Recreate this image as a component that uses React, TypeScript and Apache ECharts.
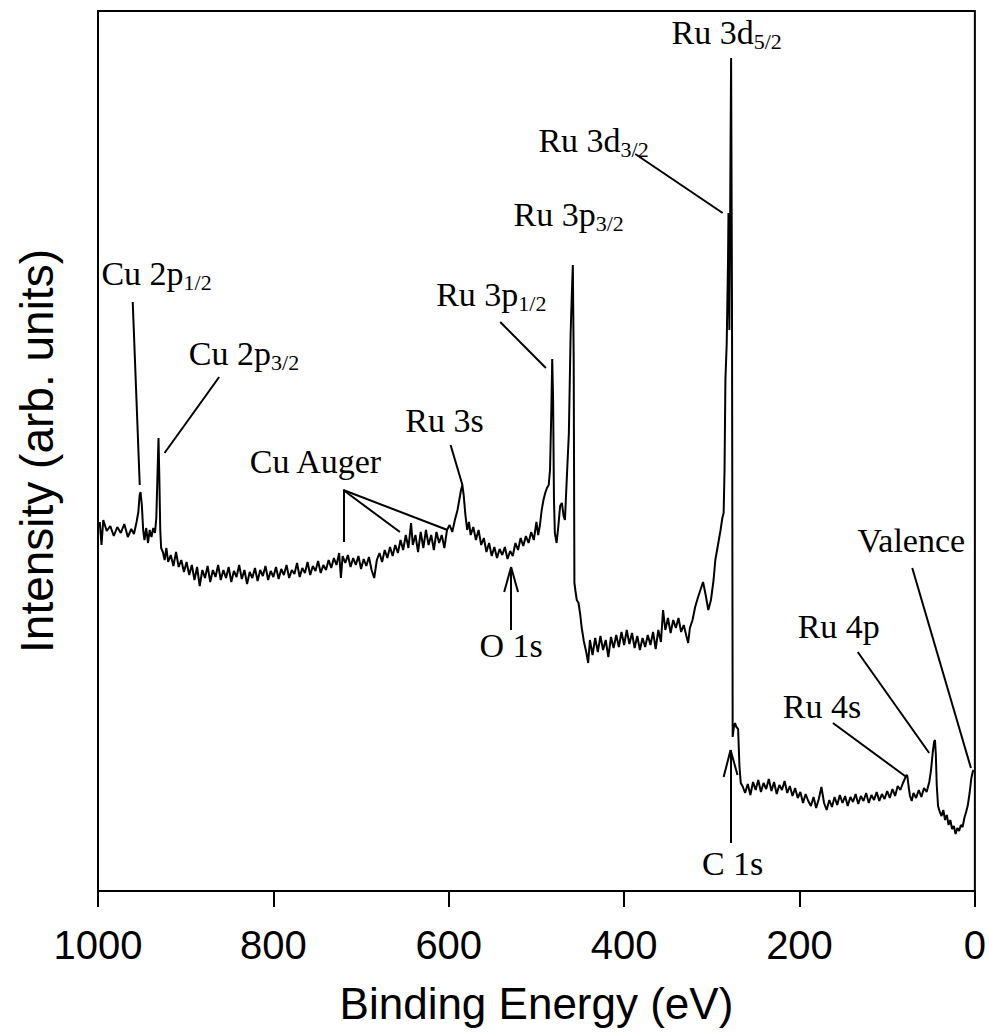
import { useEffect, useRef } from 'react';
import * as echarts from 'echarts';

// Binding energy (eV) and intensity (arb. units)
const energy = [
  998, 996, 994, 990, 986, 982, 978, 974, 970, 966, 962, 959, 956, 954, 952.5, 951.5, 950, 948.5, 947, 945,
  943, 941, 939, 937, 935, 933.5, 932, 931, 930, 929, 928, 926, 924, 922, 920, 917, 914, 911, 908, 905,
  902, 899, 896, 893, 890, 887, 884, 881, 878, 875, 872, 869, 866, 863, 860, 857, 854, 851, 848, 845,
  842, 839, 836, 833, 830, 827, 824, 821, 818, 815, 812, 809, 806, 803, 800, 797, 794, 791, 788, 785,
  782, 779, 776, 773, 770, 767, 764, 761, 758, 755, 752, 749, 746, 743, 740, 737, 734, 731, 728, 725,
  723, 721, 718, 715, 712, 709, 706, 703, 700, 697, 694, 691, 688, 685, 682, 679, 676, 673, 670, 667,
  664, 661, 658, 655, 652, 649, 646, 643, 641, 638, 635, 632, 629, 626, 623, 620, 617, 614, 611, 608,
  605, 602, 599, 596, 593, 590, 588, 586, 584.5, 583, 581, 579, 577, 575, 572, 569, 566, 563, 560, 557,
  554, 551, 548, 545, 542, 539, 536, 533, 530, 527, 524, 521, 518, 515, 512, 509, 506, 503, 500, 498,
  496, 494, 492, 490, 488, 486, 484.5, 483, 482, 481, 480, 479, 477, 475, 473, 471, 469, 467.5, 465, 463,
  461, 459.5, 458.5, 457.5, 456.7, 455.5, 454, 452, 450, 448.5, 446, 443, 441, 439, 436, 433, 430, 427, 424, 421,
  418, 415, 412, 409, 406, 403, 400, 397, 394, 391, 388, 385, 382, 379, 376, 373, 370, 367, 364, 361,
  358, 355.6, 353, 350, 347, 344, 341, 338, 335, 332, 329, 327, 325, 322, 319, 316, 313, 310, 307, 304,
  301, 298, 296, 293, 290, 288, 286.5, 285.5, 284.5, 283, 281.5, 281, 280, 279, 278, 277, 276.2, 275, 273.5, 272,
  270, 268.5, 267, 265, 262, 259, 256, 253, 250, 247, 244, 241, 238, 235, 232, 229, 226, 223, 220, 217,
  214, 211, 208, 205, 202, 199, 196, 193, 190, 187, 184, 181, 178, 175, 172, 169, 166, 163, 160, 157,
  154, 151, 148, 145, 142, 139, 136, 133, 130, 127, 124, 121, 118, 115, 112, 109, 106, 103, 100, 97,
  94, 91, 88, 85, 82, 80, 78, 77, 75.5, 74, 72, 70, 67, 64, 61, 58, 55, 52, 50, 48,
  46.5, 45.5, 44.5, 43.5, 42, 40, 38, 36, 34, 32, 30, 28, 26, 24, 22, 20, 18, 16, 14, 12,
  10, 8, 6, 4, 2.5, 1.5,
];

const intensity = [
  369, 346, 371, 360, 365, 355, 364, 358, 367, 354, 362, 357, 369, 379, 396, 399, 386, 361, 351, 363,
  348, 361, 354, 363, 358, 373, 421, 453, 411, 361, 343, 339, 331, 343, 329, 336, 325, 339, 324, 331,
  319, 329, 316, 326, 311, 324, 305, 321, 313, 325, 309, 321, 314, 326, 311, 321, 313, 324, 309, 320,
  314, 326, 312, 321, 307, 319, 313, 323, 310, 321, 315, 325, 311, 320, 314, 324, 312, 322, 316, 326,
  313, 321, 317, 328, 314, 323, 318, 329, 316, 325, 320, 330, 318, 326, 321, 331, 323, 333, 326, 338,
  313, 335, 328, 336, 324, 333, 326, 335, 322, 332, 325, 334, 321, 313, 331, 338, 329, 341, 333, 344,
  335, 346, 338, 351, 341, 356, 343, 368, 346, 356, 339, 359, 343, 361, 346, 356, 341, 359, 348, 356,
  343, 361, 366, 359, 371, 381, 391, 401, 406, 396, 376, 361, 369, 356, 364, 351, 361, 346, 353, 339,
  348, 335, 344, 333, 342, 336, 344, 332, 340, 335, 348, 341, 353, 345, 355, 348, 359, 351, 369, 356,
  366, 381, 391, 398, 403, 406, 421, 481, 532, 491, 391, 358, 348, 365, 385, 388, 375, 371, 420, 458,
  558, 600, 626, 530, 308, 300, 291, 288, 276, 264, 250, 238, 228, 251, 236, 253, 239, 255, 241, 251,
  234, 254, 243, 256, 244, 259, 246, 261, 247, 258, 243, 255, 241, 253, 244, 256, 246, 259, 242, 261,
  249, 281, 261, 273, 258, 271, 263, 273, 259, 266, 255, 248, 263, 271, 284, 293, 301, 309, 296, 281,
  291, 311, 331, 346, 361, 373, 378, 421, 511, 548, 631, 678, 561, 691, 833, 591, 154, 163, 168, 164,
  162, 125, 108, 105, 98, 107, 96, 109, 101, 111, 99, 108, 102, 112, 100, 109, 97, 106, 101, 110,
  98, 105, 95, 103, 93, 99, 88, 97, 90, 85, 94, 83, 92, 104, 88, 81, 91, 84, 94, 86,
  96, 88, 95, 85, 94, 89, 97, 87, 95, 90, 98, 88, 96, 91, 99, 90, 97, 92, 100, 93,
  102, 95, 105, 101, 108, 112, 116, 115, 104, 95, 90, 98, 93, 101, 94, 103, 99, 109, 121, 139,
  149, 151, 136, 106, 85, 79, 75, 81, 71, 76, 66, 71, 62, 65, 57, 63, 60, 66, 64, 73,
  79, 86, 98, 113, 119, 121,
];

// Peak labels: main text, subscript, position (energy, intensity)
const labelMain = ['Cu 2p', 'Cu 2p', 'Cu Auger', 'Ru 3s', 'Ru 3p', 'Ru 3p', 'Ru 3d', 'Ru 3d', 'O 1s', 'C 1s', 'Ru 4s', 'Ru 4p', 'Valence'];
const labelSub = ['1/2', '3/2', '', '', '1/2', '3/2', '3/2', '5/2', '', '', '', '', ''];
const labelE = [933.2, 833.5, 752.0, 604.8, 551.5, 463.2, 434.9, 283.1, 528.9, 276.3, 174.4, 155.2, 72.5];
const labelI = [617.2, 537.2, 429.2, 470.2, 596.2, 676.2, 750.2, 858.2, 245.2, 27.2, 184.2, 264.2, 350.2];

// Leader lines and arrows: [E1, I1, E2, I2]
const leaders = [
  [960.4, 589, 952.4, 406],
  [861.8, 514, 924.1, 438],
  [720.3, 401, 720.3, 349],
  [720.3, 401, 655.7, 359],
  [720.3, 401, 601.4, 361],
  [597.9, 446, 584.4, 406],
  [541.3, 569, 489.2, 523],
  [387.3, 737, 287.6, 678],
  [161.9, 168, 78.1, 114],
  [133.6, 239, 52.1, 138],
  [71.4, 323, 4.5, 123],
  [528.9, 261, 528.9, 324],
  [528.9, 324, 536.8, 299],
  [528.9, 324, 521.0, 299],
  [278.6, 48, 278.6, 141],
  [278.6, 141, 286.5, 114],
  [278.6, 141, 270.7, 116],
];

export default function App() {
  const ref = useRef<HTMLDivElement>(null);
  useEffect(() => {
    document.body.style.margin = '0';
    const chart = echarts.init(ref.current!, null, { renderer: 'svg' });
    const data = energy.map((e, i) => [e, intensity[i]]);
    const rich = {
      m: { fontFamily: 'Liberation Serif', fontSize: 34, lineHeight: 40, color: '#000' },
      s: { fontFamily: 'Liberation Serif', fontSize: 22, lineHeight: 14, verticalAlign: 'bottom', color: '#000' },
    };
    chart.setOption({
      animation: false,
      backgroundColor: '#fff',
      grid: { left: 98, right: 9, top: 11, bottom: 145, show: true, borderColor: '#000', borderWidth: 2, backgroundColor: 'transparent' },
      xAxis: {
        type: 'value', min: 0, max: 1000, interval: 200, inverse: true,
        name: 'Binding Energy (eV)', nameLocation: 'middle', nameGap: 90,
        nameTextStyle: { fontFamily: 'Liberation Sans', fontSize: 44, color: '#000' },
        axisLine: { show: true, onZero: false, lineStyle: { color: '#000', width: 2 } },
        axisTick: { show: true, length: 16, lineStyle: { color: '#000', width: 2 } },
        axisLabel: { fontFamily: 'Liberation Sans', fontSize: 40, color: '#000', margin: 34, formatter: (v: number) => String(v) },
        splitLine: { show: false },
      },
      yAxis: {
        type: 'value', min: 0, max: 880,
        name: 'Intensity (arb. units)', nameLocation: 'middle', nameGap: 38, nameRotate: 90,
        nameTextStyle: { fontFamily: 'Liberation Sans', fontSize: 46, color: '#000' },
        axisLine: { show: false }, axisTick: { show: false }, axisLabel: { show: false }, splitLine: { show: false },
      },
      series: [{
        type: 'line', data, symbol: 'none', silent: true,
        lineStyle: { color: '#000', width: 2 },
        markLine: {
          silent: true, symbol: ['none', 'none'], label: { show: false },
          lineStyle: { color: '#000', width: 2, type: 'solid', opacity: 1 },
          data: leaders.map(([e1, i1, e2, i2]) => [{ coord: [e1, i1] }, { coord: [e2, i2] }]),
        },
        markPoint: {
          silent: true, symbol: 'circle', symbolSize: 1,
          itemStyle: { color: 'rgba(0,0,0,0)' },
          label: { show: true, position: 'inside', color: '#000', textBorderWidth: 0, rich },
          data: labelMain.map((t, i) => ({
            coord: [labelE[i], labelI[i]],
            label: { formatter: labelSub[i] ? `{m|${t}}{s|${labelSub[i]}}` : `{m|${t}}` },
          })),
        },
      }],
    });
    return () => chart.dispose();
  }, []);
  return <div ref={ref} style={{ width: 989, height: 1036 }} />;
}
